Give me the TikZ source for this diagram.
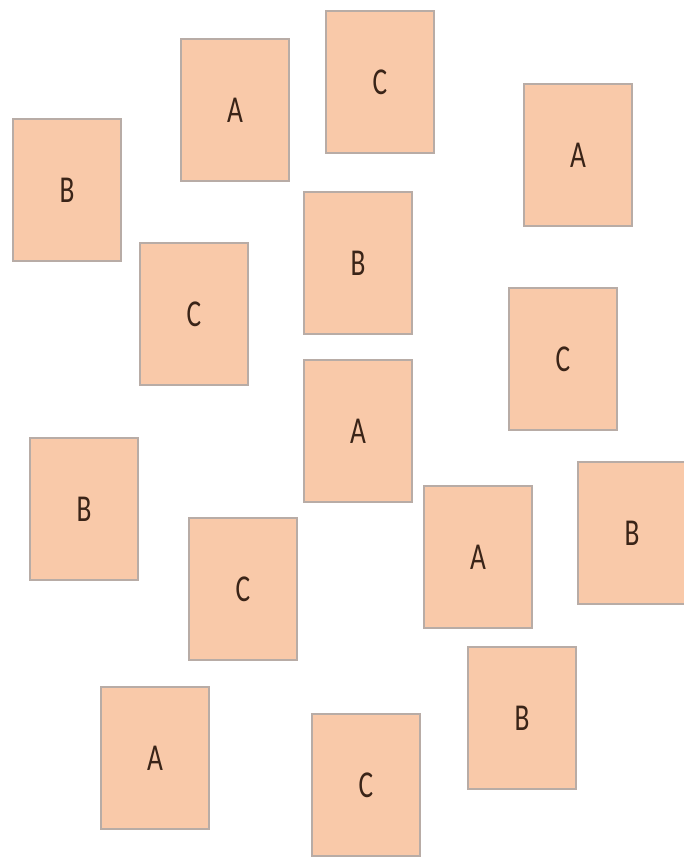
\documentclass[tikz,border=0pt]{standalone}
\usepackage{fontspec}
\usepackage{graphicx}
\setmainfont{Carlito}
\usepackage{tikz}
\usetikzlibrary{positioning}
\definecolor{peach}{HTML}{F9C9A9}
\definecolor{edgegray}{HTML}{B8ACA6}
\definecolor{inkbrown}{HTML}{3A2418}
\tikzset{
  card/.style ={rectangle, draw=edgegray, line width=1.4pt, fill=peach, minimum width=54pt, minimum height=71pt, inner sep=0pt, font=\fontsize{19}{19}\selectfont, text=inkbrown},
}
\newcommand{\lett}[1]{\scalebox{0.72}[1]{#1}}

\begin{document}
\begin{tikzpicture}[x=0.5pt, y=-0.5pt]
\useasboundingbox (0,0) rectangle (684,862);

% top rows
\node[card] (b1) at (67,190)  {\lett{B}};
\node[card] (a1) at (235,110) {\lett{A}};
\node[card] (c1) at (380,82)  {\lett{C}};
\node[card] (a2) at (578,155) {\lett{A}};

% middle
\node[card] (c2) at (194,314) {\lett{C}};
\node[card] (b2) at (358,263) {\lett{B}};
\node[card] (c3) at (563,359) {\lett{C}};
\node[card] (a3) at (358,431) {\lett{A}};

% lower middle
\node[card] (b3) at (84,509)  {\lett{B}};
\node[card] (c4) at (243,589) {\lett{C}};
\node[card] (a4) at (478,557) {\lett{A}};
\node[card] (b4) at (632,533) {\lett{B}};

% bottom
\node[card] (a5) at (155,758) {\lett{A}};
\node[card] (c5) at (366,785) {\lett{C}};
\node[card] (b5) at (522,718) {\lett{B}};

\end{tikzpicture}
\end{document}
